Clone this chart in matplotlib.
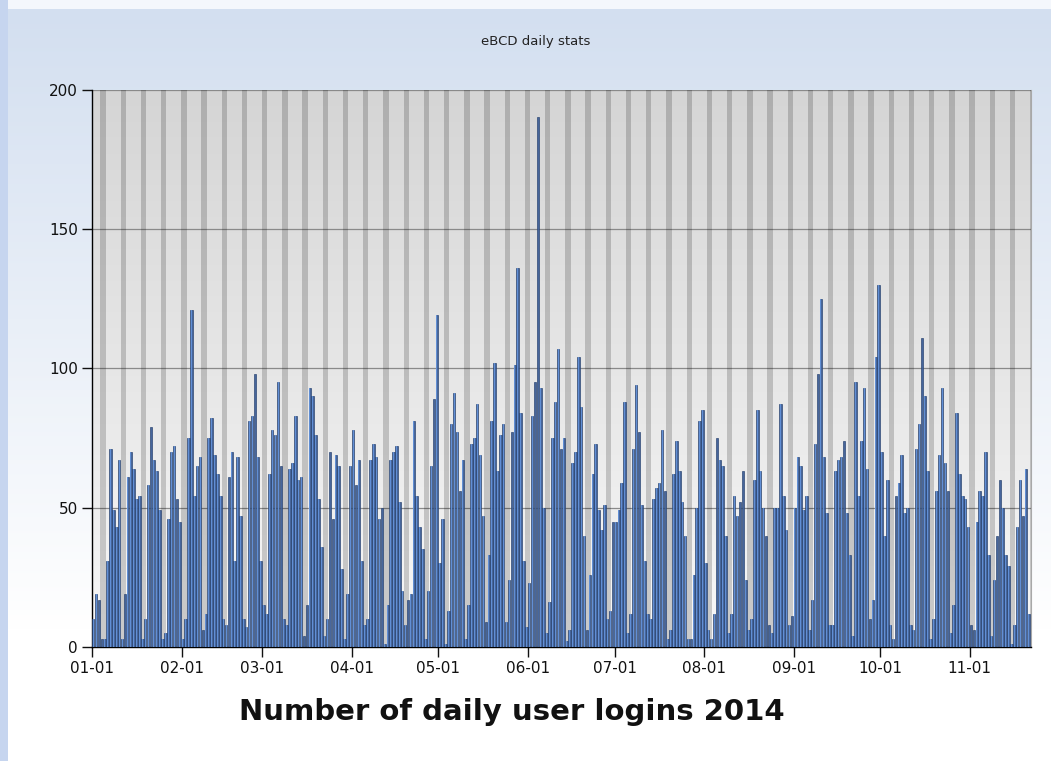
import numpy as np
import pandas as pd
import matplotlib
matplotlib.use('Agg')
import matplotlib.pyplot as plt
import matplotlib.dates as mdates
from matplotlib.colors import to_rgb

# daily logins, 2014-01-01 onwards
logins = [
    10, 19, 17, 3, 3, 31, 71, 49, 43, 67, 3, 19, 61, 70, 64, 53, 54, 3, 10, 58,
    79, 67, 63, 49, 3, 5, 46, 70, 72, 53, 45, 3, 10, 75, 121, 54, 65, 68, 6, 12,
    75, 82, 69, 62, 54, 10, 8, 61, 70, 31, 68, 47, 10, 7, 81, 83, 98, 68, 31, 15,
    12, 62, 78, 76, 95, 65, 10, 8, 64, 66, 83, 60, 61, 4, 15, 93, 90, 76, 53, 36,
    4, 10, 70, 46, 69, 65, 28, 3, 19, 65, 78, 58, 67, 31, 8, 10, 67, 73, 68, 46,
    50, 1, 15, 67, 70, 72, 52, 20, 8, 17, 19, 81, 54, 43, 35, 3, 20, 65, 89, 119,
    30, 46, 1, 13, 80, 91, 77, 56, 67, 3, 15, 73, 75, 87, 69, 47, 9, 33, 81, 102,
    63, 76, 80, 9, 24, 77, 101, 136, 84, 31, 7, 23, 83, 95, 190, 93, 50, 5, 16, 75,
    88, 107, 71, 75, 2, 6, 66, 70, 104, 86, 40, 6, 26, 62, 73, 49, 42, 51, 10, 13,
    45, 45, 49, 59, 88, 5, 12, 71, 94, 77, 51, 31, 12, 10, 53, 57, 59, 78, 56, 3,
    6, 62, 74, 63, 52, 40, 3, 3, 26, 50, 81, 85, 30, 6, 3, 12, 75, 67, 65, 40,
    5, 12, 54, 47, 52, 63, 24, 6, 10, 60, 85, 63, 50, 40, 8, 5, 50, 50, 87, 54,
    42, 8, 11, 50, 68, 65, 49, 54, 6, 17, 73, 98, 125, 68, 48, 8, 8, 63, 67, 68,
    74, 48, 33, 4, 95, 54, 74, 93, 64, 10, 17, 104, 130, 70, 40, 60, 8, 3, 54, 59,
    69, 48, 50, 8, 6, 71, 80, 111, 90, 63, 3, 10, 56, 69, 93, 66, 56, 5, 15, 84,
    62, 54, 53, 43, 8, 6, 45, 56, 54, 70, 33, 4, 24, 40, 60, 50, 33, 29, 1, 8,
    43, 60, 47, 64, 12,
]
yticks = [0, 50, 100, 150, 200]
title = 'eBCD daily stats'
caption = 'Number of daily user logins 2014'

dates = pd.date_range('2014-01-01', periods=len(logins), freq='D')
saturdays = pd.date_range(dates[0], dates[-1] + pd.Timedelta(days=7), freq='W-SAT')

W, H = 1051, 761
fig = plt.figure(figsize=(W / 100, H / 100), dpi=100)

# window background: light blue fading to white, thin strips on top / left
bg = fig.add_axes([0, 0, 1, 1], zorder=-10)
bg.axis('off')
c_top = np.array(to_rgb('#d3dff0'))
c_bot = np.array(to_rgb('#ffffff'))
t = np.clip((np.arange(H) - 9) / 620.0, 0, 1)[:, None]
img = c_top * (1 - t) + c_bot * t
img = np.repeat(img[:, None, :], W, axis=1)
img[:9, :, :] = to_rgb('#f4f7fc')
img[:, :8, :] = to_rgb('#c6d5ef')
bg.imshow(img, extent=(0, 1, 0, 1), aspect='auto', origin='upper')
bg.set_xlim(0, 1)
bg.set_ylim(0, 1)

ax = fig.add_axes([92 / W, 1 - 647 / H, (1031 - 92) / W, (647 - 89.5) / H])

# plot area gradient, gray at top to near white at bottom
g = np.linspace(0, 1, 256)[:, None]
pgrad = np.array(to_rgb('#d5d5d5')) * (1 - g)[..., None] + np.array(to_rgb('#f8f8f8')) * g[..., None]
ax.imshow(pgrad, extent=(0, 1, 0, 1), transform=ax.transAxes, aspect='auto',
          origin='upper', zorder=0)

# weekend bands
for s in saturdays:
    x0 = mdates.date2num(s)
    ax.axvspan(x0 - 0.1, x0 + 1.75, color='black', alpha=0.18, lw=0, zorder=1)

# bars: darker body with a light highlight down the middle
ax.bar(dates, logins, width=0.85, align='edge', color='#3e5f98',
       edgecolor='#2a4470', linewidth=0.5, alpha=0.95, zorder=3)
ax.bar(dates + pd.Timedelta(hours=7), logins, width=0.3, align='edge',
       color='#6494dd', linewidth=0, alpha=0.9, zorder=4)

x_start = mdates.date2num(dates[0])
ax.set_xlim(x_start, x_start + 325.2)
ax.set_ylim(0, 200)
ax.set_yticks(yticks)
ax.xaxis.set_major_locator(mdates.MonthLocator())
ax.xaxis.set_major_formatter(mdates.DateFormatter('%m-%d'))

ax.set_axisbelow(True)
ax.yaxis.grid(True, color='#8a8a8a', linewidth=0.9)
ax.tick_params(direction='out', length=7, width=1, labelsize=11, colors='#111111', pad=3)

for side in ['left', 'bottom']:
    ax.spines[side].set_color('black')
    ax.spines[side].set_linewidth(1)
ax.spines['top'].set_visible(False)
ax.spines['right'].set_color('#a8a8a8')

fig.text(536 / W, 1 - 42 / H, title, ha='center', va='center', fontsize=9.5, color='#222222')
fig.text(512 / W, 1 - 712 / H, caption, ha='center', va='center', fontsize=21,
         fontweight='bold', color='#111111')

fig.savefig('out.png', dpi=100)
